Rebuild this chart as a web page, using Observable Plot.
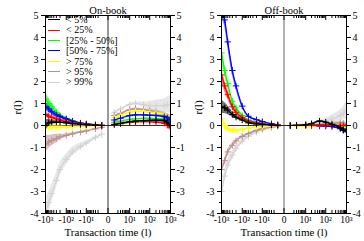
<!DOCTYPE html>
<html><head><meta charset="utf-8">
<script src="https://cdn.jsdelivr.net/npm/d3@7"></script>
<script src="https://cdn.jsdelivr.net/npm/@observablehq/plot@0.6"></script>
<style>
html,body{margin:0;padding:0;background:#fff;}
#wrap{position:relative;width:364px;height:241px;display:flex;font-family:'Liberation Serif',serif;}
#legend{position:absolute;left:48px;top:15px;font-size:10px;line-height:10.4px;}
#legend div{height:10.4px;white-space:nowrap;}
#legend span.sw{display:inline-block;width:12px;height:0;vertical-align:middle;margin-right:6px;position:relative;top:-1px;}
</style></head>
<body><div id="wrap"><div id="legend"></div></div>
<script>
// ---- data ----
const lNeg = [-1000, -700, -500, -300, -200, -100, -50, -20, -10, -3, -1];
const lPos = [1, 3, 10, 20, 50, 100, 200, 500, 700, 1000];
const seriesLabels = ["< 5%", "< 25%", "[25% - 50%]", "[50% - 75%]", "> 75%", "> 95%", "> 99%"];
const yMajor = [-4, -3, -2, -1, 0, 1, 2, 3, 4, 5];
const xMajor = [-1000, -100, -10, 0, 10, 100, 1000];
const xTickLabels = ["-10³", "-10²", "-10¹", "0", "10¹", "10²", "10³"];
const panelTitles = ["On-book", "Off-book"];

// On-book, negative l
const onNegP5  = [0.0, 0.12, 0.15, 0.15, 0.14, 0.12, 0.08, 0.05, 0.03, 0.01, 0.0];
const onNegP5E = [0.27, 0.15, 0.1, 0.07, 0.05, 0.04, 0.03, 0.02, 0.015, 0.01, 0.005];
const onNegP25  = [0.5, 0.42, 0.37, 0.3, 0.25, 0.18, 0.12, 0.07, 0.05, 0.02, 0.01];
const onNegP25E = [0.12, 0.1, 0.08, 0.06, 0.05, 0.04, 0.03, 0.02, 0.015, 0.01, 0.005];
const onNegP50  = [1.2, 1.0, 0.85, 0.6, 0.45, 0.3, 0.2, 0.1, 0.07, 0.03, 0.01];
const onNegP50E = [0.3, 0.25, 0.2, 0.15, 0.1, 0.08, 0.06, 0.04, 0.03, 0.02, 0.01];
const onNegP75  = [0.85, 0.75, 0.62, 0.48, 0.4, 0.3, 0.2, 0.11, 0.07, 0.03, 0.01];
const onNegP75E = [0.2, 0.15, 0.12, 0.1, 0.08, 0.06, 0.04, 0.03, 0.02, 0.01, 0.005];
const onNegG75  = [-0.02, -0.05, -0.07, -0.08, -0.08, -0.07, -0.06, -0.04, -0.03, -0.01, 0.0];
const onNegG75E = [0.18, 0.14, 0.12, 0.1, 0.08, 0.06, 0.05, 0.03, 0.02, 0.01, 0.005];
const onNegG95  = [-0.85, -0.75, -0.68, -0.6, -0.52, -0.45, -0.38, -0.3, -0.25, -0.15, -0.08];
const onNegG95E = [0.4, 0.3, 0.25, 0.2, 0.12, 0.08, 0.05, 0.04, 0.03, 0.02, 0.01];
const onNegG99  = [-3.9, -3.5, -3.1, -2.5, -2.0, -1.55, -1.2, -0.95, -0.8, -0.55, -0.4];
const onNegG99E = [0.5, 0.5, 0.4, 0.35, 0.3, 0.25, 0.2, 0.15, 0.1, 0.06, 0.04];
// On-book, positive l
const onPosP5  = [0.05, 0.1, 0.17, 0.2, 0.22, 0.23, 0.23, 0.22, 0.15, 0.0];
const onPosP5E = [0.01, 0.01, 0.02, 0.02, 0.02, 0.03, 0.04, 0.06, 0.1, 0.15];
const onPosP25  = [0.05, 0.08, 0.14, 0.16, 0.17, 0.17, 0.15, 0.1, 0.02, -0.1];
const onPosP25E = [0.01, 0.01, 0.02, 0.02, 0.02, 0.03, 0.04, 0.06, 0.1, 0.15];
const onPosP50  = [0.15, 0.2, 0.28, 0.3, 0.32, 0.32, 0.3, 0.28, 0.25, 0.2];
const onPosP50E = [0.01, 0.01, 0.02, 0.02, 0.02, 0.03, 0.03, 0.05, 0.07, 0.1];
const onPosP75  = [0.25, 0.33, 0.45, 0.48, 0.48, 0.46, 0.45, 0.4, 0.35, 0.25];
const onPosP75E = [0.01, 0.01, 0.02, 0.02, 0.02, 0.03, 0.04, 0.06, 0.08, 0.12];
const onPosG75  = [0.35, 0.45, 0.6, 0.65, 0.63, 0.6, 0.57, 0.5, 0.4, 0.3];
const onPosG75E = [0.01, 0.01, 0.02, 0.02, 0.03, 0.03, 0.04, 0.06, 0.08, 0.1];
const onPosG95  = [0.45, 0.55, 0.72, 0.76, 0.72, 0.68, 0.62, 0.5, 0.4, 0.3];
const onPosG95E = [0.01, 0.02, 0.02, 0.03, 0.04, 0.05, 0.07, 0.1, 0.15, 0.2];
const onPosG99  = [0.6, 0.75, 0.95, 1.0, 0.95, 0.9, 0.9, 0.9, 0.95, 0.95];
const onPosG99E = [0.02, 0.03, 0.05, 0.08, 0.12, 0.2, 0.25, 0.3, 0.35, 0.4];
// Off-book, negative l
const offNegP5  = [0.85, 0.8, 0.7, 0.5, 0.38, 0.25, 0.12, 0.07, 0.05, 0.02, 0.01];
const offNegP5E = [0.3, 0.25, 0.2, 0.12, 0.08, 0.05, 0.04, 0.03, 0.02, 0.01, 0.005];
const offNegP25  = [2.3, 1.8, 1.4, 0.85, 0.6, 0.35, 0.2, 0.12, 0.08, 0.04, 0.02];
const offNegP25E = [0.3, 0.25, 0.2, 0.12, 0.1, 0.06, 0.04, 0.03, 0.02, 0.01, 0.005];
const offNegP50  = [3.3, 2.5, 1.9, 1.1, 0.8, 0.45, 0.25, 0.15, 0.1, 0.05, 0.02];
const offNegP50E = [0.3, 0.25, 0.2, 0.12, 0.1, 0.06, 0.04, 0.03, 0.02, 0.01, 0.01];
const offNegP75  = [5.3, 4.8, 3.8, 2.5, 1.8, 0.88, 0.42, 0.26, 0.18, 0.08, 0.03];
const offNegP75E = [0.35, 0.3, 0.25, 0.2, 0.15, 0.08, 0.05, 0.03, 0.02, 0.01, 0.01];
const offNegG75  = [0.3, 0.0, -0.15, -0.22, -0.22, -0.18, -0.12, -0.06, -0.04, -0.02, 0.0];
const offNegG75E = [0.15, 0.15, 0.12, 0.1, 0.08, 0.06, 0.04, 0.03, 0.02, 0.01, 0.005];
const offNegG95  = [-2.0, -1.6, -1.2, -0.9, -0.7, -0.5, -0.37, -0.22, -0.15, -0.07, -0.03];
const offNegG95E = [0.15, 0.12, 0.1, 0.08, 0.06, 0.05, 0.04, 0.03, 0.02, 0.01, 0.005];
const offNegG99  = [-3.0, -2.3, -1.8, -1.35, -1.05, -0.72, -0.5, -0.3, -0.2, -0.1, -0.04];
const offNegG99E = [0.3, 0.3, 0.25, 0.2, 0.15, 0.1, 0.08, 0.05, 0.03, 0.02, 0.01];
// Off-book, positive l
const offPosP5  = [0.0, 0.0, 0.03, 0.08, 0.2, 0.15, 0.05, -0.1, -0.2, -0.25];
const offPosP5E = [0.005, 0.01, 0.01, 0.02, 0.03, 0.03, 0.04, 0.05, 0.07, 0.1];
const offPosP25  = [0.0, 0.01, 0.02, 0.02, 0.03, 0.03, 0.02, 0.0, 0.0, 0.0];
const offPosP25E = [0.005, 0.005, 0.01, 0.01, 0.01, 0.02, 0.02, 0.03, 0.04, 0.05];
const offPosP50  = [0.0, 0.01, 0.02, 0.03, 0.03, 0.02, 0.0, -0.02, -0.03, -0.05];
const offPosP50E = [0.005, 0.005, 0.01, 0.01, 0.01, 0.02, 0.02, 0.03, 0.04, 0.05];
const offPosP75  = [0.0, 0.0, 0.0, 0.0, -0.02, -0.03, -0.05, -0.15, -0.22, -0.25];
const offPosP75E = [0.005, 0.005, 0.01, 0.01, 0.01, 0.02, 0.03, 0.05, 0.08, 0.1];
const offPosG75  = [0.0, -0.02, -0.03, -0.03, -0.02, -0.02, -0.03, -0.05, -0.08, -0.1];
const offPosG75E = [0.005, 0.01, 0.01, 0.01, 0.02, 0.02, 0.03, 0.04, 0.05, 0.06];
const offPosG95  = [0.0, 0.01, 0.02, 0.03, 0.05, 0.08, 0.1, 0.12, 0.1, 0.05];
const offPosG95E = [0.005, 0.01, 0.01, 0.01, 0.02, 0.03, 0.04, 0.06, 0.08, 0.1];
const offPosG99  = [0.0, 0.02, 0.05, 0.08, 0.15, 0.2, 0.3, 0.45, 0.55, 0.7];
const offPosG99E = [0.01, 0.02, 0.03, 0.05, 0.08, 0.12, 0.18, 0.25, 0.3, 0.4];

// ---- styles ----
const seriesColors = ["#000000", "#ff0000", "#00ff00", "#0000ff", "#ffff00", "#bc8f8f", "#d3d3d3"];
const drawOrder = [6, 5, 4, 2, 3, 1, 0];

// ---- build ----
const yMinor = d3.range(-3.5, 5, 1);
const xMinor = [];
for (const k of [1, 10, 100]) for (let m = 2; m <= 9; m++) { xMinor.push(m * k, -m * k); }

function rowsFor(negV, negE, posV, posE) {
  const rows = [];
  for (let s = 0; s < 7; s++) {
    lNeg.forEach((l, j) => rows.push({s, side: "n", l, v: negV[s][j], e: negE[s][j]}));
    lPos.forEach((l, j) => rows.push({s, side: "p", l, v: posV[s][j], e: posE[s][j]}));
  }
  return rows;
}

function panel(title, rows, cfg) {
  const W = 182, H = 241, mt = 15, mb = 28;
  const ph = H - mt - mb;
  const marks = [
    Plot.ruleX([0], {stroke: cfg.zeroColor, strokeWidth: cfg.zeroWidth}),
    Plot.ruleY([0], {stroke: "#000", strokeWidth: 0.8})
  ];
  for (const i of drawOrder) {
    const d = rows.filter(r => r.s === i);
    marks.push(Plot.areaY(d, {x: "l", y1: r => r.v - r.e, y2: r => r.v + r.e, z: "side", fill: seriesColors[i], fillOpacity: 0.55, curve: "monotone-x", clip: true}));
    marks.push(Plot.lineY(d, {x: "l", y: "v", z: "side", stroke: seriesColors[i], strokeWidth: 1.2, curve: "monotone-x", clip: true}));
    marks.push(Plot.dot(d, {x: "l", y: "v", symbol: "plus", r: 2.2, stroke: seriesColors[i], strokeWidth: 1, clip: true}));
  }
  marks.push(
    Plot.frame({stroke: "#000"}),
    Plot.ruleX(xMajor, {x: d => d, insetTop: ph - 5, stroke: "#000"}),
    Plot.ruleX(xMajor, {x: d => d, insetBottom: ph - 5, stroke: "#000"}),
    Plot.ruleX(xMinor, {x: d => d, insetTop: ph - 3, stroke: "#000"}),
    Plot.ruleX(xMinor, {x: d => d, insetBottom: ph - 3, stroke: "#000"}),
    Plot.axisX({anchor: "bottom", ticks: xMajor, tickSize: 0, tickPadding: 3, tickFormat: d => xTickLabels[xMajor.indexOf(d)], label: null, fontSize: 9.5}),
    Plot.axisY({anchor: "left", ticks: yMajor, tickSize: 4, tickPadding: 3, tickFormat: d => String(d), label: null, fontSize: 10}),
    Plot.axisY({anchor: "right", ticks: yMajor, tickSize: 4, tickPadding: 2, tickFormat: d => String(d), label: null, fontSize: 10}),
    Plot.axisY({anchor: "left", ticks: yMinor, tickSize: 2, tickFormat: () => "", label: null}),
    Plot.axisY({anchor: "right", ticks: yMinor, tickSize: 2, tickFormat: () => "", label: null}),
    Plot.text([title], {text: d => d, frameAnchor: "top", dy: -9, fontSize: 10.5}),
    Plot.text(["r(l)"], {text: d => d, frameAnchor: "left", dx: cfg.ylabDx, rotate: -90, fontSize: 11}),
    Plot.text(["Transaction time (l)"], {text: d => d, frameAnchor: "bottom", dy: 22, fontSize: 11})
  );
  return Plot.plot({
    width: W, height: H,
    marginTop: mt, marginBottom: mb, marginLeft: cfg.ml, marginRight: cfg.mr,
    x: {type: "symlog", constant: 1, domain: [-1000, 1000]},
    y: {domain: [-4, 5]},
    style: {fontFamily: "'Liberation Serif', serif", fontSize: "10px", color: "#000", background: "transparent", overflow: "visible"},
    marks
  });
}

const onRows = rowsFor(
  [onNegP5, onNegP25, onNegP50, onNegP75, onNegG75, onNegG95, onNegG99],
  [onNegP5E, onNegP25E, onNegP50E, onNegP75E, onNegG75E, onNegG95E, onNegG99E],
  [onPosP5, onPosP25, onPosP50, onPosP75, onPosG75, onPosG95, onPosG99],
  [onPosP5E, onPosP25E, onPosP50E, onPosP75E, onPosG75E, onPosG95E, onPosG99E]);
const offRows = rowsFor(
  [offNegP5, offNegP25, offNegP50, offNegP75, offNegG75, offNegG95, offNegG99],
  [offNegP5E, offNegP25E, offNegP50E, offNegP75E, offNegG75E, offNegG95E, offNegG99E],
  [offPosP5, offPosP25, offPosP50, offPosP75, offPosG75, offPosG95, offPosG99],
  [offPosP5E, offPosP25E, offPosP50E, offPosP75E, offPosG75E, offPosG95E, offPosG99E]);

const wrap = document.getElementById("wrap");
wrap.insertBefore(panel(panelTitles[0], onRows, {ml: 45, mr: 12, ylabDx: -28, zeroColor: "#999", zeroWidth: 2}), wrap.firstChild);
wrap.insertBefore(panel(panelTitles[1], offRows, {ml: 39, mr: 18, ylabDx: -23, zeroColor: "#666", zeroWidth: 1}), document.getElementById("legend"));

const legend = document.getElementById("legend");
seriesLabels.forEach((lab, i) => {
  const row = document.createElement("div");
  const sw = document.createElement("span");
  sw.className = "sw";
  sw.style.borderTop = "1.2px solid " + seriesColors[i];
  row.appendChild(sw);
  row.appendChild(document.createTextNode(lab));
  legend.appendChild(row);
});
</script></body></html>
